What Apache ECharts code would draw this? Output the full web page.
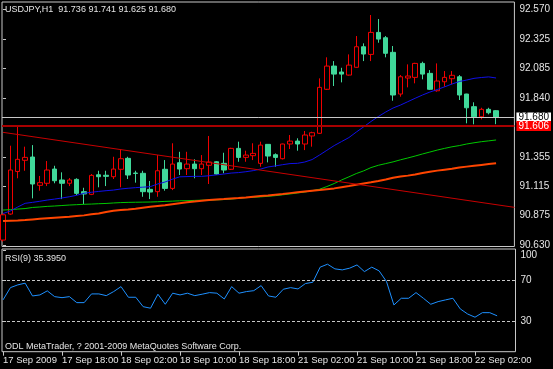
<!DOCTYPE html>
<html><head><meta charset="utf-8">
<script src="https://cdn.jsdelivr.net/npm/echarts@6/dist/echarts.min.js"></script>
<style>html,body{margin:0;padding:0;background:#000;}#c{width:553px;height:369px;}</style>
</head><body><div id="c"></div>
<script>
// ---- data ----
const symbolLabel = 'USDJPY,H1';
const lastOHLC = ['91.736', '91.741', '91.625', '91.680'];
const rsiTitle = 'RSI(9) 35.3950';
const copyright = 'ODL MetaTrader, ? 2001-2009 MetaQuotes Software Corp.';

const open = [90.672,90.886,91.236,91.328,91.355,91.122,91.139,91.256,91.166,91.139,
  91.171,91.070,91.048,91.209,91.205,91.193,91.254,91.344,91.223,91.221,
  91.089,91.070,91.254,91.097,91.308,91.259,91.297,91.259,91.287,91.316,
  91.303,91.254,91.426,91.352,91.366,91.303,91.459,91.374,91.341,91.462,
  91.486,91.462,91.528,91.550,91.912,92.103,92.054,92.029,92.093,92.262,
  92.199,92.380,92.336,92.216,91.873,92.005,92.010,92.125,92.043,91.900,
  91.974,91.999,92.015,91.873,91.769,91.686,91.747,91.736];
const close = [90.880,91.248,91.336,91.352,91.133,91.144,91.248,91.160,91.139,91.166,
  91.056,91.051,91.204,91.193,91.196,91.256,91.341,91.207,91.220,91.070,
  91.067,91.242,91.097,91.297,91.256,91.297,91.259,91.297,91.314,91.215,
  91.248,91.426,91.352,91.371,91.385,91.453,91.363,91.352,91.462,91.486,
  91.462,91.536,91.555,91.928,92.103,92.037,92.037,92.111,92.262,92.202,
  92.380,92.325,92.208,91.865,92.015,92.021,92.125,92.037,91.912,91.980,
  92.010,92.027,91.865,91.760,91.686,91.747,91.719,91.680];
const low = [90.660,90.880,91.180,91.242,91.015,91.078,91.116,91.139,91.009,91.116,
  91.042,90.968,91.042,91.106,91.116,91.174,91.106,91.174,91.144,91.028,
  91.009,91.028,91.078,91.083,91.207,91.207,91.180,91.207,91.133,91.210,
  91.221,91.248,91.316,91.316,91.330,91.275,91.311,91.275,91.335,91.421,
  91.407,91.412,91.440,91.545,91.906,91.939,91.969,92.025,92.090,92.144,
  92.144,92.295,92.175,91.818,91.851,91.928,91.961,91.994,91.906,91.892,
  91.933,91.953,91.824,91.632,91.624,91.665,91.706,91.625];
const high = [90.890,91.448,91.604,91.440,91.453,91.199,91.322,91.283,91.229,91.182,
  91.180,91.102,91.215,91.242,91.242,91.357,91.418,91.357,91.242,91.242,
  91.158,91.371,91.330,91.468,91.398,91.398,91.336,91.371,91.528,91.322,
  91.390,91.431,91.481,91.407,91.468,91.481,91.460,91.385,91.465,91.536,
  91.509,91.569,91.563,92.002,92.175,92.144,92.089,92.199,92.350,92.290,
  92.523,92.490,92.350,92.268,92.029,92.117,92.130,92.139,92.070,92.125,
  92.062,92.062,92.029,91.875,91.805,91.760,91.760,91.741];

const maBlue = [90.890,90.911,90.944,90.974,90.982,90.991,91.001,91.009,91.018,91.028,
  91.040,91.057,91.065,91.072,91.078,91.083,91.092,91.098,91.103,91.107,
  91.111,91.133,91.149,91.172,91.192,91.194,91.196,91.196,91.201,91.208,
  91.215,91.223,91.227,91.234,91.243,91.256,91.273,91.282,91.292,91.301,
  91.303,91.314,91.334,91.371,91.410,91.449,91.482,91.515,91.560,91.603,
  91.647,91.688,91.725,91.758,91.782,91.810,91.838,91.865,91.889,91.910,
  91.932,91.955,91.976,91.988,92.002,92.009,92.014,92.005];
const maGreen = [90.919,90.922,90.927,90.931,90.940,90.944,90.949,90.952,90.956,90.960,
  90.963,90.966,90.968,90.971,90.973,90.977,90.980,90.982,90.983,90.984,
  90.985,90.987,90.990,90.992,90.995,90.996,90.998,91.000,91.001,91.003,
  91.005,91.009,91.015,91.021,91.024,91.027,91.032,91.037,91.044,91.051,
  91.059,91.067,91.078,91.090,91.112,91.137,91.166,91.192,91.219,91.241,
  91.268,91.287,91.301,91.315,91.332,91.347,91.363,91.380,91.396,91.412,
  91.426,91.439,91.449,91.462,91.472,91.481,91.488,91.495];
const maOrange = [90.829,90.831,90.833,90.837,90.842,90.847,90.852,90.856,90.860,90.864,
  90.870,90.875,90.884,90.891,90.903,90.913,90.919,90.924,90.930,90.938,
  90.946,90.952,90.958,90.967,90.975,90.982,90.989,90.996,91.001,91.005,
  91.009,91.014,91.018,91.023,91.029,91.034,91.039,91.045,91.051,91.058,
  91.065,91.071,91.077,91.083,91.090,91.097,91.107,91.116,91.127,91.137,
  91.147,91.158,91.170,91.184,91.194,91.202,91.211,91.223,91.233,91.243,
  91.251,91.259,91.268,91.276,91.283,91.290,91.297,91.303];
const rsi9 = [51.1,63.2,65.9,67.6,55.0,56.0,60.0,54.3,53.3,54.3,
  48.4,48.4,57.0,57.0,55.3,59.3,64.2,53.7,53.7,44.4,
  42.9,56.7,46.8,57.7,56.0,57.7,55.3,56.7,58.3,57.7,
  52.0,64.2,57.7,59.3,60.2,65.2,55.0,53.7,61.6,63.2,
  61.9,67.2,68.5,83.4,86.3,81.7,80.7,82.4,85.6,79.0,
  83.4,79.7,69.1,46.1,52.7,52.7,58.3,52.7,46.8,49.4,
  51.1,52.7,42.2,37.2,34.0,38.5,38.5,35.395];

const trendBars = [0, 69.5];
const trendPrices = [91.558, 90.941];
const bidPrice = 91.680;
const levelPrice = 91.606;
const rsiLevels = [70, 30];

const priceTicks = [90.630, 90.875, 91.115, 91.355, 91.840, 92.085, 92.325, 92.570];
const rsiTicks = [30, 70, 100];
const timeTickBars = [0, 8, 16, 24, 32, 40, 48, 56, 64];
const timeLabels = ['17 Sep 2009', '17 Sep 18:00', '18 Sep 02:00', '18 Sep 10:00', '18 Sep 18:00',
  '21 Sep 02:00', '21 Sep 10:00', '21 Sep 18:00', '22 Sep 02:00'];

// ---- chart ----
const FONT = 'Liberation Sans';
const FG = '#E4E4E4';
const FRAME = '#C8C8C8';
const BULL = '#F00000';
const BEAR = '#40D89A';

const candleData = open.map((o, i) => [i, o, close[i], low[i], high[i]]);
const pts = arr => arr.map((v, i) => [i, v]);
const xMin = -0.14, xMax = 69.49;
const txt = (size) => ({ color: FG, fontSize: size, fontWeight: 'normal', fontFamily: FONT });

const chart = echarts.init(document.getElementById('c'), null, { renderer: 'canvas' });
chart.setOption({
  backgroundColor: '#000',
  animation: false,
  title: [
    { text: symbolLabel + '  ' + lastOHLC.join(' '), left: 5, top: 5, padding: 0, textStyle: txt(9) },
    { text: rsiTitle, left: 5, top: 254, padding: 0, textStyle: txt(9) },
    { text: copyright, left: 5, top: 342, padding: 0, textStyle: txt(9) }
  ],
  grid: [
    { left: 2, top: 2, width: 513.5, height: 244.5, show: true, borderColor: FRAME, borderWidth: 1 },
    { left: 2, top: 249, width: 513.5, height: 102.7, show: true, borderColor: FRAME, borderWidth: 1 }
  ],
  xAxis: [
    { type: 'value', gridIndex: 0, min: xMin, max: xMax, show: false },
    { type: 'value', gridIndex: 1, min: xMin, max: xMax,
      axisLine: { show: false }, splitLine: { show: false },
      axisTick: { show: true, customValues: timeTickBars, length: 4, lineStyle: { color: FRAME } },
      axisLabel: { customValues: timeTickBars, align: 'left', margin: 4,
        formatter: v => timeLabels[timeTickBars.indexOf(Math.round(v))] || '',
        ...txt(9.5) } }
  ],
  yAxis: [
    { type: 'value', gridIndex: 0, position: 'right', min: 90.619, max: 92.630,
      splitLine: { show: false }, axisLine: { show: false },
      axisTick: { show: true, customValues: priceTicks, length: 3, lineStyle: { color: FRAME } },
      axisLabel: { customValues: priceTicks, margin: 5, formatter: v => v.toFixed(3), ...txt(10) } },
    { type: 'value', gridIndex: 1, position: 'right', min: 0, max: 101.3,
      splitLine: { show: false }, axisLine: { show: false },
      axisTick: { show: true, customValues: rsiTicks, length: 3, lineStyle: { color: FRAME } },
      axisLabel: { customValues: rsiTicks, margin: 5, verticalAlignMaxLabel: 'top', ...txt(10) } }
  ],
  series: [
    { type: 'candlestick', xAxisIndex: 0, yAxisIndex: 0, data: candleData, barWidth: 5,
      itemStyle: { color: '#000', color0: BEAR, borderColor: BULL, borderColor0: BEAR, borderWidth: 1 } },
    { type: 'line', name: 'MA green', xAxisIndex: 0, yAxisIndex: 0, data: pts(maGreen), showSymbol: false,
      lineStyle: { color: '#00C800', width: 1 }, z: 3 },
    { type: 'line', name: 'MA orange', xAxisIndex: 0, yAxisIndex: 0, data: pts(maOrange), showSymbol: false,
      lineStyle: { color: '#FF4500', width: 2 }, z: 3 },
    { type: 'line', name: 'MA blue', xAxisIndex: 0, yAxisIndex: 0, data: pts(maBlue), showSymbol: false,
      lineStyle: { color: '#1010E8', width: 1 }, z: 3, clip: false,
      markLine: { symbol: 'none', silent: true, animation: false,
        data: [
          { yAxis: bidPrice, lineStyle: { color: '#C8C8C8', width: 1, type: 'solid' },
            label: { show: true, position: 'end', distance: 2, formatter: bidPrice.toFixed(3),
              color: '#000', backgroundColor: '#FFFFFF', padding: [0, 2], lineHeight: 10, fontSize: 10, fontFamily: FONT } },
          { yAxis: levelPrice, lineStyle: { color: '#A80000', width: 2, type: 'solid' },
            label: { show: true, position: 'end', distance: 2, formatter: levelPrice.toFixed(3),
              color: '#FFFFFF', backgroundColor: '#FF0000', padding: [0, 2], lineHeight: 10, fontSize: 10, fontFamily: FONT } }
        ] } },
    { type: 'line', name: 'Trend', xAxisIndex: 0, yAxisIndex: 0,
      data: trendBars.map((b, i) => [b, trendPrices[i]]), showSymbol: false,
      lineStyle: { color: '#C80000', width: 1 }, z: 4 },
    { type: 'line', name: 'RSI', xAxisIndex: 1, yAxisIndex: 1, data: pts(rsi9), showSymbol: false,
      lineStyle: { color: '#1E90FF', width: 1 },
      markLine: { symbol: 'none', silent: true, animation: false, label: { show: false },
        lineStyle: { color: '#C8C8C8', width: 1, type: [3, 2] },
        data: rsiLevels.map(v => ({ yAxis: v })) } }
  ]
});
</script></body></html>
